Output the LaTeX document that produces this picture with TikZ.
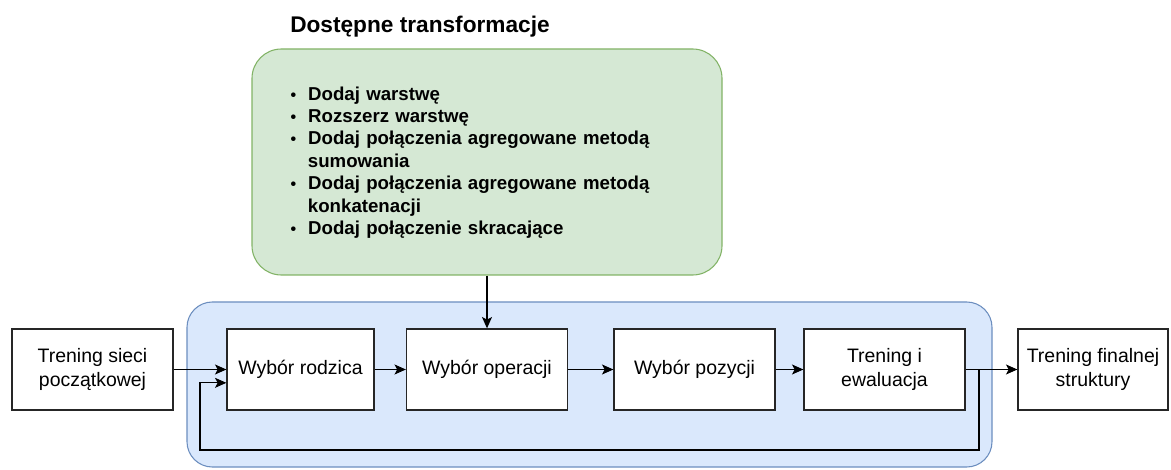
\documentclass[tikz,border=0pt]{standalone}
\usepackage{fontspec}
\setmainfont{Liberation Sans}
\usepackage{tikz}
\usetikzlibrary{arrows.meta}
\definecolor{greenfill}{HTML}{D5E8D4}
\definecolor{greenline}{HTML}{82B366}
\definecolor{bluefill}{HTML}{DAE8FC}
\definecolor{blueline}{HTML}{6C8EBF}
\newcommand{\bulletmark}{{\large\textbullet}}
\newenvironment{translist}{\begin{list}{\bulletmark}{%
    \setlength{\leftmargin}{14pt}\setlength{\labelsep}{9pt}%
    \setlength{\labelwidth}{4pt}\setlength{\itemsep}{0pt}%
    \setlength{\parsep}{0pt}\setlength{\topsep}{0pt}%
    \setlength{\partopsep}{0pt}}\raggedright}{\end{list}}
\tikzset{
  stepbox/.style={draw=black!85, line width=1pt, fill=white, minimum height=60.75pt,
    align=center, inner sep=2pt, font=\fontsize{14.6}{17.5}\selectfont},
  arr/.style={-{Stealth[length=8.5pt,width=7.5pt,inset=2pt]}, line width=0.8pt},
  every edge/.style={draw, arr},
}

\begin{document}
\begin{tikzpicture}[x=0.75pt, y=-0.75pt]
    \useasboundingbox (0,0) rectangle (1171,470);

    % tla
    \node[draw=blueline, fill=bluefill, line width=0.8pt, rounded corners=19pt,
      minimum width=603.75pt, minimum height=123.75pt] at (589.5,384.5) (loop) {};
    \node[draw=greenline, fill=greenfill, line width=0.8pt, rounded corners=22pt,
      minimum width=352.5pt, minimum height=169.5pt] at (487,162) (trans) {};

    \node[anchor=west, inner sep=0pt, font=\bfseries\fontsize{17}{20}\selectfont] at (290,27) (title) {Dostępne transformacje};
    \node[anchor=west, inner sep=0pt, text width=300pt, font=\bfseries\fontsize{14}{16.8}\selectfont] at (289,158) (list) {%
      \begin{translist}
        \item Dodaj warstwę
        \item Rozszerz warstwę
        \item Dodaj połączenia agregowane metodą sumowania
        \item Dodaj połączenia agregowane metodą konkatenacji
        \item Dodaj połączenie skracające
      \end{translist}};

    % kroki
    \node[stepbox, minimum width=120.75pt] at (92.5,369.5) (init) {Trening sieci\\początkowej};
    \node[stepbox, minimum width=110.25pt] at (300.5,369.5) (parent) {Wybór rodzica};
    \node[stepbox, minimum width=120.75pt] at (487,369.5) (oper) {Wybór operacji};
    \node[stepbox, minimum width=120.75pt] at (694.5,369.5) (pos) {Wybór pozycji};
    \node[stepbox, minimum width=120.75pt] at (884.5,369.5) (eval) {Trening i\\ewaluacja};
    \node[stepbox, minimum width=112.5pt] at (1093,369.5) (final) {Trening finalnej\\struktury};

    \draw (trans.south) edge (oper.north);
    \draw (init) edge (parent);
    \draw (parent) edge (oper);
    \draw (oper) edge (pos);
    \draw (pos) edge (eval);
    \draw (eval) edge (final);

    % petla
    \coordinate (split) at (979,369.5);
    \coordinate (back) at (200,450);
    \draw[arr] (split) |- (back) |- ([yshift=-10pt]parent.west);
\end{tikzpicture}
\end{document}
